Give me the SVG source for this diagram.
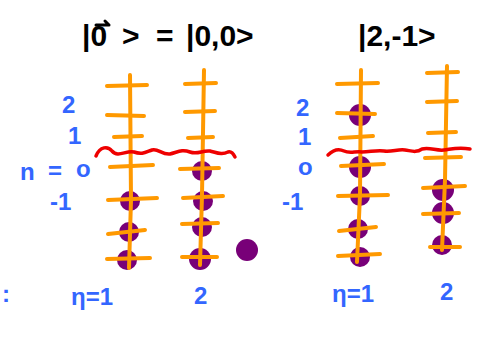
<svg xmlns="http://www.w3.org/2000/svg" width="477" height="338" viewBox="0 0 477 338">
<style>
.o{stroke:#FF9900;stroke-width:4;stroke-linecap:round;fill:none}
.r{stroke:#EE0000;stroke-width:3.5;stroke-linecap:round;fill:none}
.d{fill:#780078}
.k{font-family:"Liberation Sans",sans-serif;font-size:30px;font-weight:bold;fill:#000}
.b{font-family:"Liberation Sans",sans-serif;font-size:24px;font-weight:bold;fill:#3366FF}
</style>
<rect width="477" height="338" fill="#fff"/>
<!-- titles -->
<text class="k" x="82" y="46">|0</text>
<path d="M96 25 L109 25 M105 21 L109 25" stroke="#000" stroke-width="3" stroke-linecap="round" fill="none"/>
<text class="k" x="122" y="46">&gt;</text>
<text class="k" x="156" y="46">=</text>
<text class="k" x="186" y="46">|0,0&gt;</text>
<text class="k" x="358" y="46">|2,-1&gt;</text>
<!-- dots -->
<g id="dots1">
<circle class="d" cx="130" cy="201" r="10"/>
<circle class="d" cx="129" cy="232" r="10"/>
<circle class="d" cx="127" cy="260" r="10"/>
</g>
<g id="dots2">
<circle class="d" cx="202" cy="171" r="10"/>
<circle class="d" cx="203" cy="201" r="10"/>
<circle class="d" cx="202" cy="227" r="10"/>
<circle class="d" cx="200" cy="259" r="11"/>
<circle class="d" cx="247" cy="250" r="11"/>
</g>
<g id="dots3">
<circle class="d" cx="360" cy="115" r="11"/>
<circle class="d" cx="360" cy="167" r="11"/>
<circle class="d" cx="360" cy="196" r="10"/>
<circle class="d" cx="358" cy="229" r="10"/>
<circle class="d" cx="360" cy="257" r="10"/>
</g>
<g id="dots4">
<circle class="d" cx="443" cy="190" r="11"/>
<circle class="d" cx="443" cy="213" r="11"/>
<circle class="d" cx="442" cy="245" r="10"/>
</g>
<!-- ladders -->
<g id="ladder1">
<path class="o" d="M130 75 L131 200 L129 268"/>
<path class="o" d="M107 86 L147 85 M107 115 L144 116 M114 137 L142 136 M110 167 L153 165 M108 200 L157 198 M108 234 L145 230 M107 259 L150 258"/>
</g>
<g id="ladder2">
<path class="o" d="M204 70 L202 195 L200 265"/>
<path class="o" d="M185 84 L216 83 M185 112 L215 111 M188 138 L213 137 M180 169 L219 168 M183 198 L223 196 M182 224 L218 223 M182 257 L217 257"/>
</g>
<g id="ladder3">
<path class="o" d="M361 70 L360 195 L357 262"/>
<path class="o" d="M337 84 L378 83 M337 113 L375 114 M340 138 L373 136 M341 166 L384 164 M338 196 L388 195 M339 231 L376 227 M338 256 L380 254"/>
</g>
<g id="ladder4">
<path class="o" d="M447 66 L445 180 L442 250"/>
<path class="o" d="M427 73 L458 72 M427 102 L457 101 M428 133 L456 132 M425 158 L461 157 M423 188 L465 186 M423 214 L459 213 M430 247 L460 247"/>
</g>
<!-- red wavy lines -->
<path class="r" d="M96 156 C100 146 108 146 112 151 C118 158 126 150 134 152 C142 155 146 152 152 150 C158 148 162 155 170 154 C178 152 182 149 190 152 C198 155 202 150 210 151 C218 153 222 155 228 152 C231 151 233 153 235 157"/>
<path class="r" d="M328 155 C333 150 338 148 344 151 C350 154 355 151 362 152 C370 152 376 150 384 151 C392 152 398 149 405 150 C412 151 416 153 422 149 C430 147 436 151 444 150 C452 149 458 147 470 149"/>
<!-- blue labels -->
<g id="labels-left">
<text class="b" x="62" y="113">2</text>
<text class="b" x="68" y="144">1</text>
<text class="b" x="20" y="180" font-size="30">n</text>
<text class="b" x="48" y="179" font-size="26">=</text>
<text class="b" x="76" y="177" font-size="22">o</text>
<text class="b" x="50" y="210">-1</text>
</g>
<g id="labels-right">
<text class="b" x="296" y="116">2</text>
<text class="b" x="298" y="145">1</text>
<text class="b" x="298" y="175">o</text>
<text class="b" x="282" y="210">-1</text>
</g>
<g id="labels-bottom">
<text class="b" x="2" y="302">:</text>
<text class="b" x="71" y="305" font-size="28">η=1</text>
<text class="b" x="194" y="304">2</text>
<text class="b" x="332" y="302" font-size="28">η=1</text>
<text class="b" x="440" y="300">2</text>
</g>
</svg>
